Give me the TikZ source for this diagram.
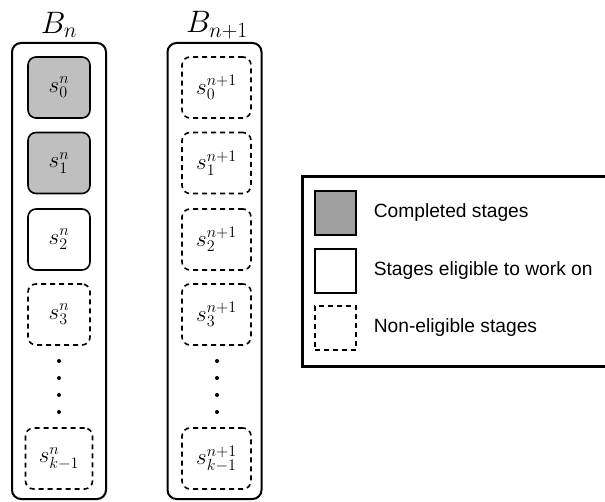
\documentclass[tikz,border=0pt]{standalone}
\usepackage{fix-cm}
\usepackage{fontspec}
\newfontfamily\legendfont{Liberation Sans}
\usetikzlibrary{positioning}
\tikzset{>=latex}
\tikzset{
  stage/.style={draw,line width=1.6pt,rounded corners=8pt,minimum width=62pt,minimum height=61pt,inner sep=0pt,font=\fontsize{23}{26}\selectfont},
  done/.style={stage,fill=gray!50},
  ready/.style={stage},
  waiting/.style={stage,dash pattern=on 5pt off 4pt},
  batch/.style={draw,line width=2pt,rounded corners=9pt,minimum width=94pt,minimum height=456pt,inner sep=0pt},
  batchname/.style={font=\fontsize{31}{34}\selectfont},
  keybox/.style={draw,line width=1.2pt,minimum width=41pt,minimum height=44pt,inner sep=0pt},
  keytext/.style={anchor=west,inner sep=0pt,font=\legendfont\fontsize{19.2}{22}\selectfont}
}

\begin{document}
\begin{tikzpicture}[x=1pt,y=-1pt]
\useasboundingbox (0,0) rectangle (605,502);
% batch n
\node [batch] (Bn) at (59,271) {};
\node [batchname] (Bnname) at (59,25) {$B_n$};
\node [done] (sn0) at (59,87.5) {$s_0^n$};
\node [done] (sn1) at (59,163) {$s_1^n$};
\node [ready] (sn2) at (59,239.5) {$s_2^n$};
\node [waiting] (sn3) at (59,314.5) {$s_3^n$};
\node [waiting,minimum width=67pt] (snk) at (59,458.5) {$s_{k-1}^n$};
% batch n+1
\node [batch] (Bm) at (214.5,271) {};
\node [batchname] (Bmname) at (217,25) {$B_{n+1}$};
\node [waiting,minimum width=69pt] (sm0) at (216.5,87.5) {$s_0^{n+1}$};
\node [waiting,minimum width=69pt] (sm1) at (216.5,163) {$s_1^{n+1}$};
\node [waiting,minimum width=69pt] (sm2) at (216.5,239.5) {$s_2^{n+1}$};
\node [waiting,minimum width=69pt] (sm3) at (216.5,314.5) {$s_3^{n+1}$};
\node [waiting,minimum width=69pt] (smk) at (216.5,458.5) {$s_{k-1}^{n+1}$};
% dots
\foreach \y in {361,378,395,412} {
  \fill (59,\y) circle (2pt);
  \fill (217,\y) circle (2pt);
}
% legend
\draw [line width=3pt] (302,177) rectangle (615,367);
\node [keybox,fill=gray!75] (keydone) at (335.5,213) {};
\node [keybox] (keyready) at (335.5,271) {};
\node [keybox,dash pattern=on 5pt off 4pt] (keywait) at (335.5,328) {};
\node [keytext,right=17pt of keydone] (txtdone) {Completed stages};
\node [keytext,right=17pt of keyready] (txtready) {Stages eligible to work on};
\node [keytext,right=17pt of keywait] (txtwait) {Non-eligible stages};
\end{tikzpicture}
\end{document}
